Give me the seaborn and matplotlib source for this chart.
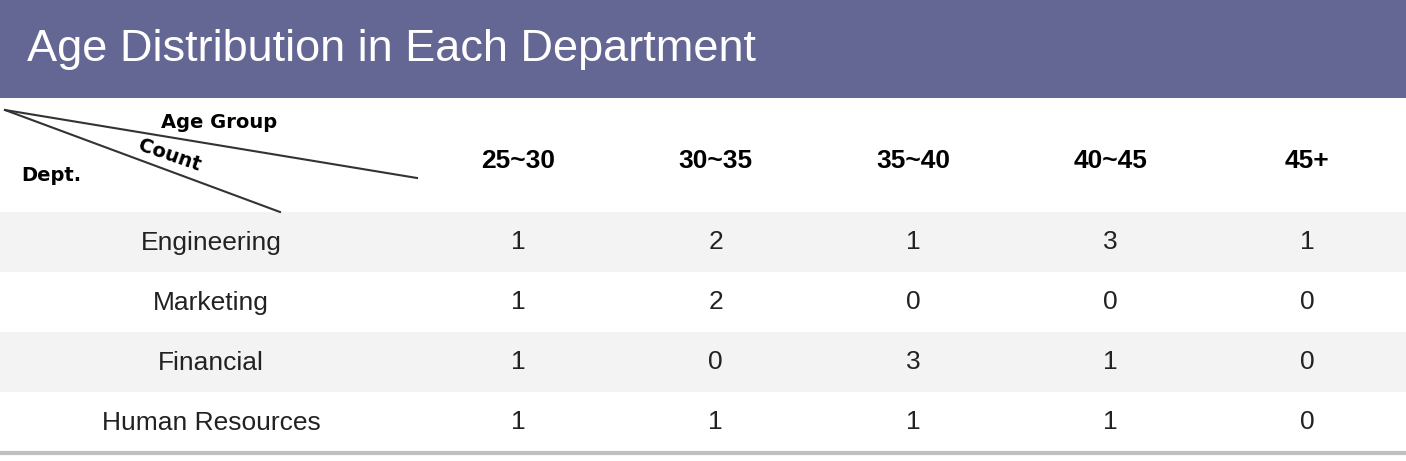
import matplotlib.pyplot as plt
import matplotlib.colors as mcolors
import numpy as np
import seaborn as sns

title = "Age Distribution in Each Department"
age_groups = ["25~30", "30~35", "35~40", "40~45", "45+"]
departments = ["Engineering", "Marketing", "Financial", "Human Resources"]
counts = np.array([
    [1, 2, 1, 3, 1],
    [1, 2, 0, 0, 0],
    [1, 0, 3, 1, 0],
    [1, 1, 1, 1, 0],
])

W, H = 1406, 461
fig = plt.figure(figsize=(W / 100, H / 100), dpi=100)
ax = fig.add_axes([0, 0, 1, 1])
ax.set_xlim(0, W)
ax.set_ylim(H, 0)
ax.axis("off")
ax.set_zorder(2)
ax.patch.set_alpha(0)

font = ["Liberation Sans", "DejaVu Sans"]

# title bar
ax.add_patch(plt.Rectangle((0, 0), W, 98, color="#646693", lw=0))
ax.text(27, 49, title, color="white", fontsize=32.5, va="center", family=font)

# body: stripes drawn as heatmap, counts as annotations
row_top, row_h = 212, 60
stripes = np.array([[i % 2] * len(age_groups) for i in range(len(departments))])
hm_ax = fig.add_axes([420 / W, 1 - (row_top + row_h * 4) / H, (W - 420) / W, row_h * 4 / H])
sns.heatmap(stripes, ax=hm_ax, cmap=mcolors.ListedColormap(["#f3f3f3", "white"]),
            annot=counts, fmt="d", cbar=False, linewidths=0,
            annot_kws={"fontsize": 19, "color": "#222222", "family": font})
hm_ax.axis("off")

for i, dept in enumerate(departments):
    y = row_top + row_h * i
    ax.add_patch(plt.Rectangle((0, y), 420, row_h, color=["#f3f3f3", "white"][i % 2], lw=0))
    ax.text(211, y + row_h / 2 + 1, dept, fontsize=19, ha="center", va="center", color="#222222", family=font)

ax.plot([0, W], [453, 453], color="#c0c0c0", lw=3)

# header row
col_w = (W - 420) / len(age_groups)
for j, g in enumerate(age_groups):
    ax.text(420 + col_w * (j + 0.5), 161, g, fontsize=19, fontweight="bold",
            ha="center", va="center", family=font)

# diagonal header cell
ax.plot([5, 417], [110, 178], color="#333333", lw=1.5)
ax.plot([5, 280], [110, 212], color="#333333", lw=1.5)
ax.text(219, 122, "Age Group", fontsize=14, fontweight="bold", ha="center", va="center")
ax.text(170, 155, "Count", fontsize=14, fontweight="bold", ha="center", va="center", rotation=-19)
ax.text(51, 175, "Dept.", fontsize=14, fontweight="bold", ha="center", va="center")

fig.savefig("out.png", dpi=100)
